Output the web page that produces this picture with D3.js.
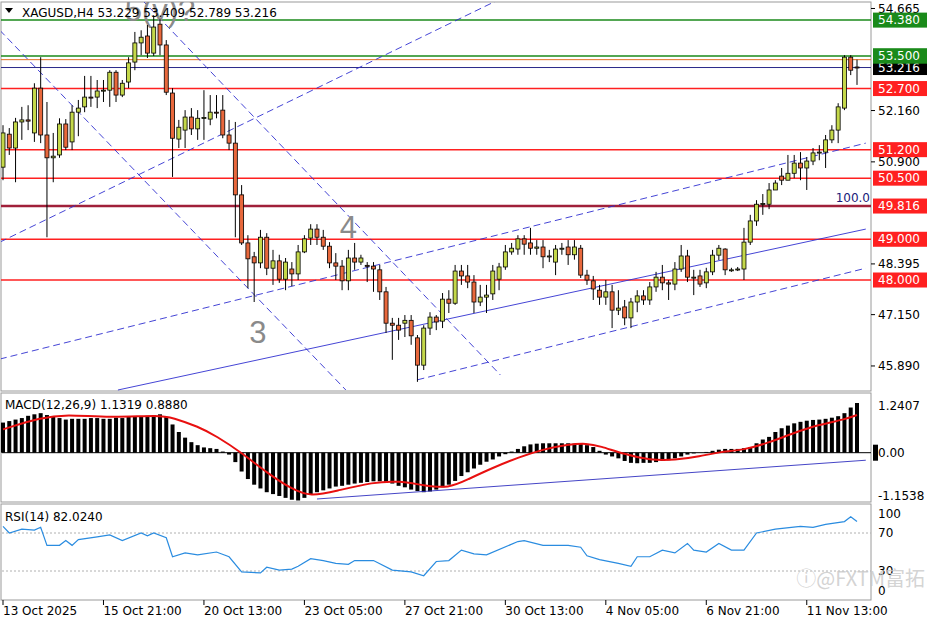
<!DOCTYPE html>
<html><head><meta charset="utf-8">
<script src="https://cdn.jsdelivr.net/npm/d3@7"></script>
<style>body{margin:0;background:#fff}svg{display:block;font-family:"DejaVu Sans",sans-serif}</style>
</head><body><div id="chart"></div>
<script>
// H4 candles [open, high, low, close]
const candles = [
[50.77,51.80,50.45,51.61],[51.58,51.73,51.07,51.24],[51.24,51.98,50.40,51.88],[51.88,52.25,51.44,51.93],[51.93,52.29,51.68,51.90],
[51.61,52.83,51.39,52.71],[52.71,53.47,51.36,51.56],[51.56,52.37,49.05,51.00],[51.00,51.61,50.40,51.04],[51.07,51.97,51.00,51.83],
[51.83,51.95,51.19,51.26],[51.39,52.29,51.19,52.12],[52.12,52.42,51.53,52.22],[52.25,53.01,52.12,52.49],[52.49,53.01,52.25,52.47],
[52.49,52.91,52.22,52.64],[52.64,52.91,52.37,52.66],[52.66,53.15,52.25,53.10],[53.10,53.15,52.37,52.54],[52.54,52.91,52.49,52.83],
[52.86,53.47,52.71,53.33],[53.35,54.09,53.15,53.82],[53.82,54.13,53.52,53.96],[53.99,54.26,53.45,53.57],[53.57,54.50,53.50,54.21],
[54.28,54.40,53.52,53.77],[53.77,53.89,52.54,52.61],[52.59,52.71,50.53,51.48],[51.46,51.93,51.24,51.75],[51.68,52.17,51.24,52.00],
[52.00,52.22,51.56,51.71],[51.71,52.17,51.44,51.97],[51.97,52.66,51.44,51.99],[51.95,52.54,51.80,52.12],[52.12,52.54,51.97,52.10],
[52.17,52.54,51.48,51.56],[51.56,51.93,51.19,51.36],[51.36,51.88,49.05,50.09],[50.09,50.33,48.86,48.91],[48.91,49.10,47.80,48.52],
[48.57,48.69,47.46,48.42],[48.42,49.23,48.29,49.05],[49.05,49.15,48.12,48.29],[48.29,48.74,47.88,48.47],[48.47,48.62,47.93,48.02],
[48.02,48.54,47.75,48.44],[48.27,48.44,47.85,48.15],[48.15,48.86,48.00,48.69],[48.69,49.10,48.66,49.01],[49.03,49.37,48.86,49.25],
[49.25,49.37,48.86,49.05],[49.05,49.23,48.74,48.83],[48.83,48.93,48.29,48.42],[48.42,48.66,48.00,48.34],[48.34,48.49,47.75,47.98],
[47.98,48.74,47.75,48.54],[48.54,48.91,48.25,48.44],[48.44,48.62,48.37,48.54],[48.36,48.44,47.95,48.34],[48.34,48.44,47.71,48.27],
[48.25,48.37,47.51,47.71],[47.71,47.83,46.70,46.94],[46.94,47.07,46.04,46.89],[46.89,47.07,46.53,46.77],[46.94,47.14,46.60,47.01],
[47.01,47.14,46.41,46.63],[46.58,46.65,45.50,45.91],[45.91,46.89,45.79,46.82],[46.82,47.21,46.65,47.09],[47.09,47.14,46.77,46.97],
[46.99,47.68,46.82,47.53],[47.53,47.75,47.19,47.43],[47.43,48.37,47.39,48.22],[48.22,48.37,47.88,48.10],[48.10,48.37,47.80,47.95],
[47.95,48.12,47.19,47.46],[47.46,47.88,47.36,47.58],[47.58,47.88,47.19,47.63],[47.66,48.37,47.51,48.22],[48.02,48.42,47.75,48.32],
[48.32,48.86,48.25,48.69],[48.69,48.91,48.62,48.78],[48.76,49.10,48.62,49.01],[49.01,49.10,48.62,48.88],[48.91,49.28,48.62,48.78],
[48.78,48.98,48.62,48.81],[48.81,48.98,48.29,48.57],[48.57,48.74,48.44,48.59],[48.44,48.86,48.12,48.76],[48.76,48.91,48.62,48.78],
[48.81,48.98,48.37,48.62],[48.62,48.98,48.50,48.81],[48.78,48.86,48.05,48.12],[48.12,48.25,47.88,48.00],[47.98,48.10,47.51,47.78],
[47.75,47.88,47.39,47.58],[47.58,48.00,47.39,47.71],[47.71,47.88,46.82,47.26],[47.26,47.75,47.14,47.31],[47.34,47.51,46.89,47.07],
[47.07,47.56,46.82,47.46],[47.46,47.75,47.21,47.61],[47.61,47.75,47.39,47.51],[47.51,47.95,47.39,47.83],[47.83,48.20,47.71,48.07],
[48.07,48.37,47.75,47.93],[47.93,48.00,47.51,47.90],[47.90,48.44,47.75,48.27],[48.27,48.86,48.20,48.59],[48.59,48.74,47.95,48.07],
[48.07,48.25,47.63,48.07],[48.10,48.25,47.83,47.90],[47.93,48.30,47.80,48.20],[48.20,48.74,48.12,48.61],[48.61,48.86,48.49,48.78],
[48.76,48.78,48.12,48.25],[48.25,48.30,48.20,48.25],[48.25,48.32,48.22,48.27],[48.27,49.28,48.00,48.93],[48.93,49.60,48.86,49.45],
[49.45,49.96,49.33,49.86],[49.86,50.11,49.60,49.88],[49.86,50.38,49.74,50.21],[50.21,50.45,50.26,50.38],[50.55,50.75,50.33,50.45],
[50.45,51.07,50.45,50.62],[50.62,51.07,50.50,50.87],[50.87,51.14,50.45,50.75],[50.75,51.02,50.21,50.92],[50.92,51.24,50.82,51.12],
[51.12,51.31,50.94,51.14],[51.14,51.56,50.75,51.44],[51.44,51.80,51.36,51.68],[51.68,52.34,51.36,52.25],[52.22,53.52,52.17,53.47],
[53.47,53.52,53.03,53.15],[53.229,53.409,52.789,53.216]
];
const macdHist = [0.80,0.84,0.88,0.92,0.98,1.02,1.05,1.0,0.95,0.92,0.88,0.9,0.9,0.9,0.92,0.92,0.9,0.9,0.93,0.92,
0.95,0.95,0.96,0.98,1.0,1.02,0.95,0.75,0.55,0.4,0.28,0.2,0.14,0.12,0.1,0.03,-0.05,-0.25,-0.5,-0.7,
-0.85,-0.95,-1.05,-1.1,-1.15,-1.2,-1.25,-1.27,-1.2,-1.1,-1.05,-1.0,-0.95,-0.9,-0.88,-0.85,-0.82,-0.8,-0.78,-0.76,
-0.76,-0.78,-0.82,-0.88,-0.92,-0.98,-1.02,-1.05,-1.03,-0.98,-0.92,-0.85,-0.75,-0.62,-0.52,-0.42,-0.32,-0.24,-0.18,-0.1,
-0.04,0.03,0.1,0.17,0.22,0.24,0.25,0.25,0.25,0.25,0.25,0.24,0.23,0.2,0.15,0.05,-0.05,-0.1,-0.15,-0.22,
-0.27,-0.28,-0.27,-0.27,-0.25,-0.22,-0.2,-0.15,-0.1,-0.05,-0.02,0.0,0.02,0.05,0.08,0.1,0.1,0.1,0.12,0.15,
0.25,0.35,0.42,0.55,0.65,0.72,0.78,0.82,0.85,0.87,0.88,0.9,0.93,0.97,1.05,1.2,1.32];
const macdSignal = [[0,.62],[6,.93],[10,1.02],[17,.93],[25,1.0],[27,.93],[31,.7],[34,.44],[38,0],[42,-.53],[46,-.97],[49,-1.17],
[53,-1.02],[59,-.78],[63,-.75],[67,-.87],[71,-.95],[74,-.71],[78,-.4],[82,-.13],[86,.09],[90,.22],[93,.25],[95,.18],[99,-.04],
[103,-.2],[107,-.2],[111,-.1],[114,.02],[118,.07],[122,.27],[126,.53],[130,.75],[134,.88],[136,1.0]];
const rsi = [[0,77],[1,70],[3,74],[5,73],[6,76],[7,57],[9,57],[10,62],[11,57],[12,63],[15,66],[17,68],[19,62],[22,70],[23,67],
[24,70],[26,65],[27,45],[29,49],[31,47],[34,50],[36,45],[38,29],[41,28],[42,34],[44,31],[46,32],[47,35],[49,43],[51,41],[53,38],
[55,37],[56,41],[59,41],[62,31],[65,29],[67,25],[69,40],[71,41],[73,52],[75,48],[77,47],[82,61],[83,62],[86,57],[90,57],[92,55],
[93,46],[95,42],[98,38],[100,35],[101,45],[103,45],[105,52],[107,49],[109,59],[110,52],[112,50],[114,59],[116,52],[118,52],
[120,70],[123,74],[127,77],[129,76],[131,79],[134,82],[135,87],[136,82]];
const dateTicks = ["13 Oct 2025","15 Oct 21:00","20 Oct 13:00","23 Oct 05:00","27 Oct 21:00","30 Oct 13:00","4 Nov 05:00","6 Nov 21:00","11 Nov 13:00"];
const priceTicks = [54.665,52.160,50.900,48.395,47.150,45.890];
// horizontal levels [price, colour, label box colour or null, width]
const levels = [[54.38,"#1a8a1a","#1a8a1a",1.5],[53.50,"#1a8a1a","#1a8a1a",1.5],[53.409,"#e07020",null,1],[53.216,"#2a2a8a","#000",1],
[52.70,"#ff2020","#ff2020",1.5],[51.20,"#ff2020","#ff2020",1.5],[50.50,"#ff2020","#ff2020",1.5],[49.816,"#a0203a","#ff2020",2.5],
[49.00,"#ff2020","#ff2020",1.5],[48.00,"#ff2020","#ff2020",1.5]];
// trend lines [[i1,p1],[i2,p2],dashed]
const trendLines = [[[18.3,45.30],[137.4,49.25],false],[[-0.5,46.06],[137.4,51.36],true],[[-0.5,48.93],[78.8,54.87],true],
[[66,45.55],[137.4,48.29],true],[[-0.5,54.13],[54.6,45.30],true],[[22.2,54.87],[79.2,45.67],true]];
const waveLabels = [["5(v)?",25,54.62],["4",55,49.30],["3",40.6,46.72]];
const macdTrend = [[50,-1.23],[137.4,-0.2]];

const W = 936, H = 624, R = 871;
const svg = d3.select("#chart").append("svg").attr("width", W).attr("height", H);
const x = d3.scaleLinear().domain([0, 136]).range([3, 857]);
const y = d3.scaleLinear().domain([45.30, 54.80]).range([390, 3]);
const ym = d3.scaleLinear().domain([-1.31, 1.586]).range([502, 393]);
const yr = d3.scaleLinear().domain([0, 100]).range([599.5, 504.5]);

// frames
[[2,391],[393,502],[504,600]].forEach(([t,b]) => svg.append("rect").attr("x",1).attr("y",t).attr("width",R-1).attr("height",b-t)
  .attr("fill","none").attr("stroke","#9a9a9a"));

const main = svg.append("g");
main.append("defs").append("clipPath").attr("id","cp").append("rect").attr("x",1).attr("y",2).attr("width",R-1).attr("height",389);
const clip = main.append("g").attr("clip-path","url(#cp)");

levels.forEach(([p,c,,w]) => clip.append("line").attr("x1",1).attr("x2",R).attr("y1",y(p)).attr("y2",y(p)).attr("stroke",c).attr("stroke-width",w));

trendLines.forEach(([a,b,d]) => clip.append("line").attr("x1",x(a[0])).attr("y1",y(a[1])).attr("x2",x(b[0])).attr("y2",y(b[1]))
  .attr("stroke","#3030d0").attr("stroke-width",0.9).attr("stroke-dasharray",d ? "7,4" : null));

waveLabels.forEach(([t,i,p]) => clip.append("text").attr("x",x(i)).attr("y",y(p)).attr("text-anchor","middle").attr("dy","0.35em")
  .attr("font-size",31).attr("font-family","Liberation Sans, sans-serif").attr("fill","#8a8a8a").text(t));

const cg = clip.selectAll(".c").data(candles).join("g");
cg.append("line").attr("x1",(d,i)=>x(i)).attr("x2",(d,i)=>x(i)).attr("y1",d=>y(d[1])).attr("y2",d=>y(d[2])).attr("stroke","#000");
cg.append("rect").attr("x",(d,i)=>x(i)-2).attr("width",4)
  .attr("y",d=>y(Math.max(d[0],d[3]))).attr("height",d=>Math.max(1,Math.abs(y(d[0])-y(d[3]))))
  .attr("fill",d=>d[3]>=d[0]?"#c4d84a":"#e8683c").attr("stroke","#000").attr("stroke-width",0.8);

main.append("text").attr("x",870).attr("y",y(49.816)-4).attr("text-anchor","end").attr("font-size",12).attr("fill","#1a1a7a").text("100.0");

// right axis
priceTicks.forEach(p => {
  svg.append("line").attr("x1",R).attr("x2",R+4).attr("y1",y(p)).attr("y2",y(p)).attr("stroke","#000");
  svg.append("text").attr("x",R+7).attr("y",y(p)).attr("dy","0.35em").attr("font-size",12).text(p.toFixed(3));
});
levels.slice().reverse().forEach(([p,,b]) => {
  if (!b) return;
  svg.append("rect").attr("x",R+2).attr("y",y(p)-7.5).attr("width",54).attr("height",15).attr("fill",b);
  svg.append("text").attr("x",R+7).attr("y",y(p)).attr("dy","0.35em").attr("font-size",12).attr("fill","#fff").text(p.toFixed(3));
});
// keep green 53.500 on top of bid box
svg.append("rect").attr("x",R+2).attr("y",y(53.5)-7.5).attr("width",54).attr("height",15).attr("fill","#1a8a1a");
svg.append("text").attr("x",R+7).attr("y",y(53.5)).attr("dy","0.35em").attr("font-size",12).attr("fill","#fff").text("53.500");

svg.append("path").attr("d","M5,8L13,8L9,13Z").attr("fill","#000");
svg.append("text").attr("x",22).attr("y",17).attr("font-size",12).text("XAGUSD,H4  53.229 53.409 52.789 53.216");

// MACD
svg.selectAll(".h").data(macdHist).join("rect").attr("x",(d,i)=>x(i)-2).attr("width",4)
  .attr("y",d=>Math.min(ym(d),ym(0))).attr("height",d=>Math.abs(ym(d)-ym(0))).attr("fill","#000");
svg.append("line").attr("x1",2).attr("x2",R).attr("y1",ym(0)).attr("y2",ym(0)).attr("stroke","#000");
svg.append("path").datum(macdSignal).attr("fill","none").attr("stroke","#e81010").attr("stroke-width",2)
  .attr("d",d3.line().x(d=>x(d[0])).y(d=>ym(d[1])).curve(d3.curveBasis));
svg.append("line").attr("x1",x(macdTrend[0][0])).attr("y1",ym(macdTrend[0][1])).attr("x2",x(macdTrend[1][0])).attr("y2",ym(macdTrend[1][1]))
  .attr("stroke","#3030c0").attr("stroke-width",0.9);
svg.append("text").attr("x",5).attr("y",409).attr("font-size",12).text("MACD(12,26,9) 1.1319 0.8880");
svg.append("rect").attr("x",R+2).attr("y",ym(0)-8).attr("width",5).attr("height",16).attr("fill","#000");
[[1.2407,"1.2407"],[0,"0.00"],[-1.1538,"-1.1538"]].forEach(([v,t]) =>
  svg.append("text").attr("x",R+7).attr("y",ym(v)).attr("dy","0.35em").attr("font-size",12).text(t));

// RSI
[70,30].forEach(v => svg.append("line").attr("x1",2).attr("x2",R).attr("y1",yr(v)).attr("y2",yr(v))
  .attr("stroke","#b0b0b0").attr("stroke-dasharray","2,2"));
svg.append("path").datum(rsi).attr("fill","none").attr("stroke","#2a8ce0").attr("stroke-width",1.2)
  .attr("d",d3.line().x(d=>x(d[0])).y(d=>yr(d[1])));
svg.append("text").attr("x",5).attr("y",521).attr("font-size",12).text("RSI(14) 82.0240");
[[100,514],[70,533],[30,571],[0,591]].forEach(([v,py]) =>
  svg.append("text").attr("x",R+7).attr("y",py).attr("dy","0.35em").attr("font-size",12).text(v));

svg.append("text").attr("x",925).attr("y",586).attr("text-anchor","end").attr("font-size",20)
  .attr("font-family","Noto Sans CJK SC, sans-serif").attr("fill","#c8c8c8").attr("fill-opacity",0.8).text("\u24D8@FXTM富拓");

// date axis
dateTicks.forEach((t,k) => {
  const px = x(k*16);
  svg.append("line").attr("x1",px).attr("x2",px).attr("y1",600).attr("y2",605).attr("stroke","#000");
  svg.append("text").attr("x",px).attr("y",615).attr("font-size",12).text(t);
});
</script></body></html>
